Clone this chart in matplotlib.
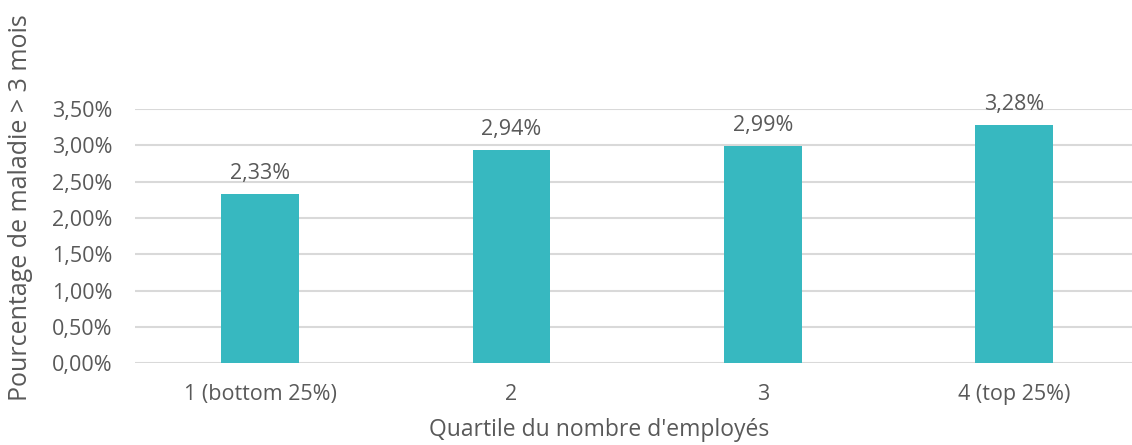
import matplotlib
matplotlib.use('Agg')
import matplotlib.pyplot as plt
from matplotlib.ticker import FuncFormatter

# Taux de maladie longue durée par quartile d'effectif
quartiles = ['1 (bottom 25%)', '2', '3', '4 (top 25%)']
taux = [2.33, 2.94, 2.99, 3.28]
y_ticks = [0.0, 0.5, 1.0, 1.5, 2.0, 2.5, 3.0, 3.5]

bar_color = '#37B8C0'
text_color = '#595959'
grid_color = '#D9D9D9'

plt.rcParams['font.family'] = ['Open Sans', 'DejaVu Sans']


def fmt_pct(v, pos=None):
    return f"{v:.2f}%".replace('.', ',')


fig = plt.figure(figsize=(11.32, 4.45), dpi=100)
ax = fig.add_axes([0.119, 0.184, 0.881, 0.571])

x = range(len(quartiles))
bars = ax.bar(x, taux, width=0.31, color=bar_color, zorder=3)

for rect, v in zip(bars, taux):
    ax.annotate(fmt_pct(v), (rect.get_x() + rect.get_width() / 2, v),
                xytext=(0, 7), textcoords='offset points',
                ha='center', va='bottom', fontsize=15.5, color=text_color)

ax.set_xlim(-0.5, 3.47)
ax.set_ylim(0, 3.5)
ax.set_yticks(y_ticks)
ax.yaxis.set_major_formatter(FuncFormatter(fmt_pct))
ax.set_xticks(list(x))
ax.set_xticklabels(quartiles)

ax.grid(axis='y', color=grid_color, linewidth=1.5, zorder=0)
ax.set_axisbelow(True)
for s in ax.spines.values():
    s.set_visible(False)
ax.tick_params(axis='both', length=0, labelsize=15.5, colors=text_color)
ax.tick_params(axis='y', pad=16)
ax.tick_params(axis='x', pad=15)

ax.set_ylabel("Pourcentage de maladie > 3 mois", fontsize=18, color=text_color)
ax.yaxis.set_label_coords(-0.102, 0.61)
ax.set_xlabel("Quartile du nombre d'employés", fontsize=16.5, color=text_color)
ax.xaxis.set_label_coords(0.466, -0.215)

fig.savefig('out.png', dpi=100)
